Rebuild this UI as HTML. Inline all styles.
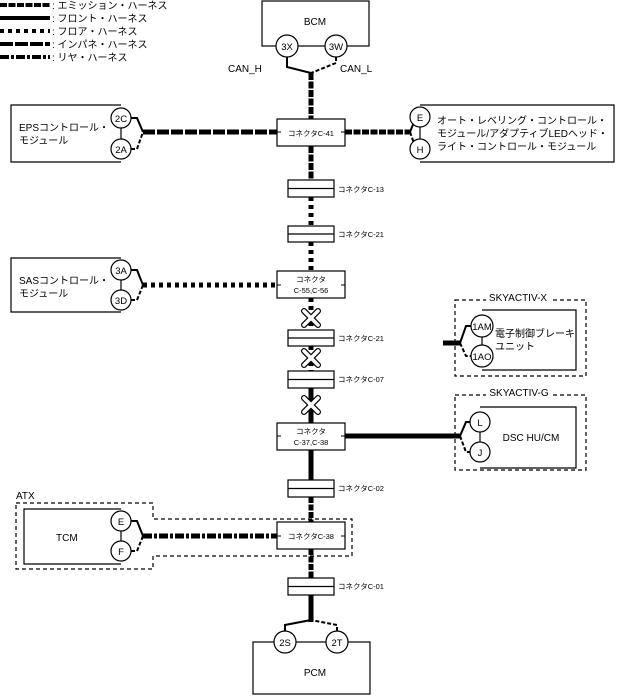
<!DOCTYPE html>
<html><head><meta charset="utf-8"><style>
html,body{margin:0;padding:0;background:#fff}
svg{display:block}
text{font-family:"Liberation Sans","Noto Sans CJK JP",sans-serif;fill:#000}
</style></head><body>
<svg width="620" height="697" viewBox="0 0 620 697" xmlns="http://www.w3.org/2000/svg">
<g font-size="10">
<!-- legend -->
<g stroke="#000" stroke-width="4">
<line x1="0" y1="5" x2="50" y2="5" stroke-dasharray="7 1.5"/>
<line x1="0" y1="18" x2="50" y2="18"/>
<line x1="0" y1="31" x2="50" y2="31" stroke-dasharray="4 4"/>
<line x1="0" y1="44" x2="50" y2="44" stroke-dasharray="13 2"/>
<line x1="0" y1="57" x2="50" y2="57" stroke-dasharray="9 2 3 2"/>
</g>
<text x="52" y="9">: エミッション・ハーネス</text>
<text x="52" y="22">: フロント・ハーネス</text>
<text x="52" y="35">: フロア・ハーネス</text>
<text x="52" y="48">: インパネ・ハーネス</text>
<text x="52" y="61">: リヤ・ハーネス</text>

<!-- wires (drawn first) -->
<g fill="none" stroke="#000">
<!-- trunk -->
<line x1="311" y1="73" x2="311" y2="120" stroke-width="5" stroke-dasharray="7 1.5"/>
<line x1="311" y1="146" x2="311" y2="180" stroke-width="5" stroke-dasharray="7 1.5"/>
<line x1="311" y1="197" x2="311" y2="226" stroke-width="5" stroke-dasharray="4 4"/>
<line x1="311" y1="242" x2="311" y2="272" stroke-width="5" stroke-dasharray="4 4"/>
<line x1="311" y1="298" x2="311" y2="330" stroke-width="5" stroke-dasharray="4 4"/>
<line x1="311" y1="346" x2="311" y2="371" stroke-width="5" stroke-dasharray="4 4"/>
<line x1="311" y1="388" x2="311" y2="423" stroke-width="5"/>
<line x1="311" y1="450" x2="311" y2="480" stroke-width="5"/>
<line x1="311" y1="497" x2="311" y2="522" stroke-width="5" stroke-dasharray="6 1.5"/>
<line x1="311" y1="549" x2="311" y2="578" stroke-width="5" stroke-dasharray="6 1.5"/>
<line x1="311" y1="595" x2="311" y2="622" stroke-width="5"/>
<!-- BCM branches -->
<polyline points="287,57 287,67 311,73" stroke-width="2"/>
<polyline points="336,57 336,63 311,73" stroke-width="2" stroke-dasharray="4 2"/>
<!-- PCM branches -->
<polyline points="285,631 285,625 311,620" stroke-width="2"/>
<polyline points="337,631 337,625 311,620" stroke-width="2" stroke-dasharray="4 2"/>
<!-- EPS -->
<line x1="143" y1="132" x2="277" y2="132" stroke-width="5" stroke-dasharray="12 2"/>
<polyline points="131,118 137,118 143,132" stroke-width="2"/>
<polyline points="131,149 137,149 143,132" stroke-width="2" stroke-dasharray="4 2"/>
<!-- right C-41 -->
<line x1="345" y1="132" x2="410" y2="132" stroke-width="5" stroke-dasharray="7 1.5"/>
<polyline points="410,132 416,117 420,117" stroke-width="2"/>
<polyline points="410,132 416,149 420,149" stroke-width="2" stroke-dasharray="4 2"/>
<!-- SAS -->
<line x1="143" y1="285" x2="277" y2="285" stroke-width="5" stroke-dasharray="4 4"/>
<polyline points="131,270 137,270 143,285" stroke-width="2"/>
<polyline points="131,300 137,300 143,285" stroke-width="2" stroke-dasharray="4 2"/>
<!-- SKYACTIV-X -->
<line x1="443" y1="343" x2="460" y2="343" stroke-width="5"/>
<polyline points="460,343 466,326 471,326" stroke-width="2"/>
<polyline points="460,343 466,356 471,356" stroke-width="2" stroke-dasharray="4 2"/>
<!-- SKYACTIV-G -->
<line x1="345" y1="436" x2="460" y2="436" stroke-width="5"/>
<polyline points="460,436 466,422 470,422" stroke-width="2"/>
<polyline points="460,436 466,452 470,452" stroke-width="2" stroke-dasharray="4 2"/>
<!-- TCM -->
<line x1="143" y1="536" x2="277" y2="536" stroke-width="5" stroke-dasharray="9 2 3 2"/>
<polyline points="131,521 137,521 143,536" stroke-width="2"/>
<polyline points="131,551 137,551 143,536" stroke-width="2" stroke-dasharray="4 2"/>
</g>

<!-- dashed containers -->
<g fill="none" stroke="#000" stroke-width="1.2" stroke-dasharray="4 3">
<rect x="455" y="300" width="131" height="76"/>
<rect x="455" y="395" width="131" height="75"/>
<polygon points="16,503 153,503 153,519 352,519 352,556 153,556 153,569 16,569"/>
</g>
<rect x="486" y="292" width="64" height="12" fill="#fff"/>
<rect x="486" y="387" width="66" height="12" fill="#fff"/>
<text x="518" y="301" text-anchor="middle">SKYACTIV-X</text>
<text x="519" y="396" text-anchor="middle">SKYACTIV-G</text>
<text x="16" y="499">ATX</text>

<!-- module boxes -->
<g fill="#fff" stroke="#000" stroke-width="1.2">
<rect x="262" y="1" width="107" height="45"/>
<rect x="253" y="642" width="117" height="52"/>
<polyline points="121,105 11,105 11,162 121,162" fill="none"/>
<polyline points="121,258 11,258 11,312 121,312" fill="none"/>
<polyline points="121,509 24,509 24,564 121,564" fill="none"/>
<line x1="121" y1="118" x2="121" y2="149"/>
<line x1="121" y1="270" x2="121" y2="300"/>
<line x1="121" y1="521" x2="121" y2="551"/>
<polyline points="420,105 614,105 614,162 420,162" fill="none"/>
<line x1="420" y1="117" x2="420" y2="149"/>
<polyline points="482,310 576,310 576,370 482,370" fill="none"/>
<line x1="482" y1="326" x2="482" y2="356"/>
<polyline points="480,407 576,407 576,468 480,468" fill="none"/>
<line x1="480" y1="422" x2="480" y2="452"/>
</g>
<text x="315" y="25" text-anchor="middle">BCM</text>
<text x="315" y="676" text-anchor="middle">PCM</text>
<text x="228" y="72">CAN_H</text>
<text x="340" y="72">CAN_L</text>
<text x="19" y="131">EPSコントロール・</text>
<text x="19" y="144">モジュール</text>
<text x="19" y="284">SASコントロール・</text>
<text x="19" y="297">モジュール</text>
<text x="56" y="541">TCM</text>
<text x="437" y="124">オート・レベリング・コントロール・</text>
<text x="437" y="137">モジュール/アダプティブLEDヘッド・</text>
<text x="437" y="150">ライト・コントロール・モジュール</text>
<text x="495" y="337">電子制御ブレーキ</text>
<text x="495" y="350">ユニット</text>
<text x="531" y="441" text-anchor="middle">DSC HU/CM</text>

<!-- pins -->
<g fill="#fff" stroke="#000" stroke-width="1.2">
<circle cx="287" cy="46" r="11"/><circle cx="336" cy="46" r="11"/>
<circle cx="285" cy="642" r="11"/><circle cx="337" cy="642" r="11"/>
<circle cx="121" cy="118" r="10"/><circle cx="121" cy="149" r="10"/>
<circle cx="121" cy="270" r="10"/><circle cx="121" cy="300" r="10"/>
<circle cx="121" cy="521" r="10"/><circle cx="121" cy="551" r="10"/>
<circle cx="420" cy="117" r="10"/><circle cx="420" cy="149" r="10"/>
<circle cx="482" cy="326" r="11"/><circle cx="482" cy="356" r="11"/>
<circle cx="480" cy="422" r="10"/><circle cx="480" cy="452" r="10"/>
</g>
<g font-size="9.5" text-anchor="middle">
<text x="287" y="50">3X</text><text x="336" y="50">3W</text>
<text x="285" y="646">2S</text><text x="337" y="646">2T</text>
<text x="121" y="122">2C</text><text x="121" y="153">2A</text>
<text x="121" y="274">3A</text><text x="121" y="304">3D</text>
<text x="121" y="525">E</text><text x="121" y="555">F</text>
<text x="420" y="121">E</text><text x="420" y="153">H</text>
<text x="482" y="330">1AM</text><text x="482" y="360">1AO</text>
<text x="480" y="426">L</text><text x="480" y="456">J</text>
</g>

<!-- connector boxes -->
<g fill="#fff" stroke="#000" stroke-width="1.2">
<rect x="277" y="119" width="68" height="27"/>
<rect x="277" y="271" width="68" height="27"/>
<rect x="277" y="423" width="68" height="27"/>
<rect x="277" y="522" width="68" height="27"/>
<rect x="288" y="180" width="46" height="17"/><line x1="288" y1="188.5" x2="334" y2="188.5"/>
<rect x="288" y="226" width="46" height="16"/><line x1="288" y1="234" x2="334" y2="234"/>
<rect x="288" y="330" width="46" height="16"/><line x1="288" y1="338" x2="334" y2="338"/>
<rect x="288" y="371" width="46" height="17"/><line x1="288" y1="379.5" x2="334" y2="379.5"/>
<rect x="288" y="480" width="46" height="17"/><line x1="288" y1="488.5" x2="334" y2="488.5"/>
<rect x="288" y="578" width="46" height="17"/><line x1="288" y1="586.5" x2="334" y2="586.5"/>
</g>
<g stroke="#000" stroke-width="1">
<line x1="277" y1="132" x2="281" y2="132"/><line x1="341" y1="132" x2="345" y2="132"/>
<line x1="277" y1="285" x2="281" y2="285"/><line x1="341" y1="285" x2="345" y2="285"/>
<line x1="277" y1="436" x2="281" y2="436"/><line x1="341" y1="436" x2="345" y2="436"/>
<line x1="277" y1="536" x2="281" y2="536"/><line x1="341" y1="536" x2="345" y2="536"/>
</g>
<g font-size="7.5">
<text x="311" y="136" text-anchor="middle">コネクタC-41</text>
<text x="311" y="282" text-anchor="middle">コネクタ</text>
<text x="311" y="293" text-anchor="middle">C-55,C-56</text>
<text x="311" y="434" text-anchor="middle">コネクタ</text>
<text x="311" y="445" text-anchor="middle">C-37,C-38</text>
<text x="311" y="539" text-anchor="middle">コネクタC-38</text>
<text x="338" y="192">コネクタC-13</text>
<text x="338" y="237">コネクタC-21</text>
<text x="338" y="341">コネクタC-21</text>
<text x="338" y="382">コネクタC-07</text>
<text x="338" y="491">コネクタC-02</text>
<text x="338" y="589">コネクタC-01</text>
</g>

<!-- X marks -->
<g stroke-linecap="round">
<g stroke="#000" stroke-width="6">
<path d="M304,311 L318,325 M318,311 L304,325"/>
<path d="M304,351 L318,365 M318,351 L304,365"/>
<path d="M304,398 L318,412 M318,398 L304,412"/>
</g>
<g stroke="#fff" stroke-width="3.6">
<path d="M304,311 L318,325 M318,311 L304,325"/>
<path d="M304,351 L318,365 M318,351 L304,365"/>
<path d="M304,398 L318,412 M318,398 L304,412"/>
</g>
</g>
</g>
</svg>
</body></html>
